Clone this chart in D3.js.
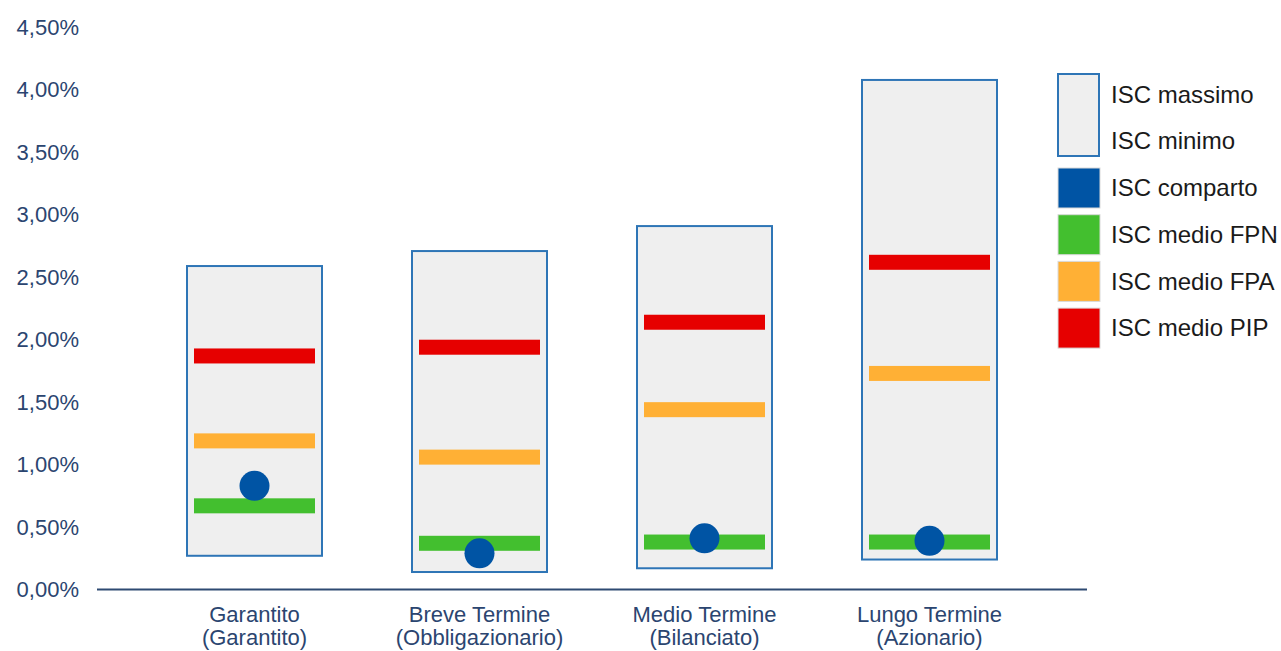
<!DOCTYPE html>
<html>
<head>
<meta charset="utf-8">
<script src="https://cdn.jsdelivr.net/npm/d3@7"></script>
<style>
  body { margin: 0; background: #fff; }
  text { font-family: "Liberation Sans", Arial, sans-serif; }
</style>
</head>
<body>
<div id="chart"></div>
<script>
// categories (two-line labels)
const categories = ["Garantito", "Breve Termine", "Medio Termine", "Lungo Termine"];
const subLabels = ["(Garantito)", "(Obbligazionario)", "(Bilanciato)", "(Azionario)"];

// values in %
const iscMax = [2.59, 2.71, 2.91, 4.08];
const iscMin = [0.27, 0.14, 0.17, 0.24];
const iscComparto = [0.83, 0.29, 0.41, 0.39];
const iscFPN = [0.67, 0.37, 0.38, 0.38];
const iscFPA = [1.19, 1.06, 1.44, 1.73];
const iscPIP = [1.87, 1.94, 2.14, 2.62];

const yTicks = [0, 0.5, 1, 1.5, 2, 2.5, 3, 3.5, 4, 4.5];

const legendItems = [
  { label: "ISC comparto", color: "#0054a4" },
  { label: "ISC medio FPN", color: "#43bf2f" },
  { label: "ISC medio FPA", color: "#ffb035" },
  { label: "ISC medio PIP", color: "#e60000" },
];

const width = 1281, height = 651;
const textColor = "#2b4570";

const svg = d3.select("#chart").append("svg")
  .attr("width", width)
  .attr("height", height);

const x = d3.scaleBand().domain(categories).range([97, 1087]).padding(0.4);
const y = d3.scaleLinear().domain([0, 4.5]).range([589.5, 27.5]);

// y tick labels (no axis line)
svg.append("g")
  .attr("transform", "translate(79,0)")
  .call(d3.axisLeft(y).tickValues(yTicks).tickSize(0).tickPadding(0)
    .tickFormat(d => d3.format(".2f")(d).replace(".", ",") + "%"))
  .call(g => g.select(".domain").remove())
  .call(g => g.selectAll("text")
    .attr("fill", textColor)
    .attr("font-size", "22px")
    .attr("font-family", "Liberation Sans, Arial, sans-serif"));

// min-max boxes
const boxes = svg.append("g");
boxes.selectAll("rect")
  .data(categories)
  .join("rect")
  .attr("x", d => x(d))
  .attr("y", (d, i) => y(iscMax[i]))
  .attr("width", x.bandwidth())
  .attr("height", (d, i) => y(iscMin[i]) - y(iscMax[i]))
  .attr("fill", "#efefef")
  .attr("stroke", "#2e75b6")
  .attr("stroke-width", 2);

// average lines
const barH = 15, inset = 7;
const series = [
  { vals: iscFPN, color: "#43bf2f" },
  { vals: iscFPA, color: "#ffb035" },
  { vals: iscPIP, color: "#e60000" },
];
series.forEach(s => {
  svg.append("g").selectAll("rect")
    .data(categories)
    .join("rect")
    .attr("x", d => x(d) + inset)
    .attr("y", (d, i) => y(s.vals[i]) - barH / 2)
    .attr("width", x.bandwidth() - 2 * inset)
    .attr("height", barH)
    .attr("fill", s.color);
});

// comparto dots
svg.append("g").selectAll("circle")
  .data(categories)
  .join("circle")
  .attr("cx", d => x(d) + x.bandwidth() / 2)
  .attr("cy", (d, i) => y(iscComparto[i]))
  .attr("r", 15)
  .attr("fill", "#0054a4");

// x axis line
svg.append("line")
  .attr("x1", 97).attr("x2", 1087)
  .attr("y1", y(0)).attr("y2", y(0))
  .attr("stroke", "#2e4a72")
  .attr("stroke-width", 2);

// category labels
const lbl = svg.append("g").selectAll("text")
  .data(categories)
  .join("text")
  .attr("text-anchor", "middle")
  .attr("fill", textColor)
  .attr("font-size", "22px");
lbl.append("tspan")
  .attr("x", d => x(d) + x.bandwidth() / 2)
  .attr("y", 622)
  .text(d => d);
lbl.append("tspan")
  .attr("x", d => x(d) + x.bandwidth() / 2)
  .attr("y", 645)
  .text((d, i) => subLabels[i]);

// legend
const legend = svg.append("g").attr("transform", "translate(1058,0)");
legend.append("rect")
  .attr("x", 0).attr("y", 74)
  .attr("width", 41).attr("height", 82)
  .attr("fill", "#efefef")
  .attr("stroke", "#2e75b6")
  .attr("stroke-width", 2);
legend.append("text").attr("x", 53).attr("y", 95).attr("dy", "0.35em")
  .attr("font-size", "24px").attr("fill", "#1a1a1a").text("ISC massimo");
legend.append("text").attr("x", 53).attr("y", 141).attr("dy", "0.35em")
  .attr("font-size", "24px").attr("fill", "#1a1a1a").text("ISC minimo");

legend.selectAll(".item")
  .data(legendItems)
  .join("g")
  .attr("class", "item")
  .attr("transform", (d, i) => `translate(0,${168 + i * 46.7})`)
  .call(g => g.append("rect")
    .attr("width", 42).attr("height", 40)
    .attr("fill", d => d.color)
    .attr("stroke", "#d9d9d9")
    .attr("stroke-width", 1))
  .call(g => g.append("text")
    .attr("x", 53).attr("y", 20).attr("dy", "0.35em")
    .attr("font-size", "24px").attr("fill", "#1a1a1a")
    .text(d => d.label));
</script>
</body>
</html>
